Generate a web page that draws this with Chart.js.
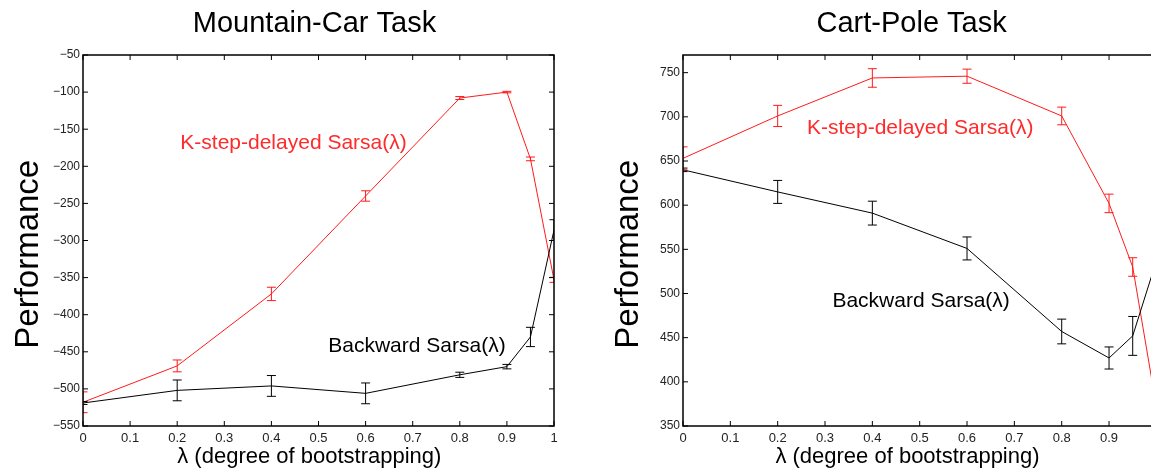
<!DOCTYPE html>
<html>
<head>
<meta charset="utf-8">
<script src="https://cdn.jsdelivr.net/npm/chart.js@4"></script>
<style>
html, body { margin: 0; padding: 0; background: #fff; overflow: hidden; width: 1151px; height: 473px; }
canvas { position: absolute; top: 0; }
#mc { left: 0; }
#cp { left: 600px; }
</style>
</head>
<body>
<canvas id="mc" width="575" height="473"></canvas>
<canvas id="cp" width="565" height="473"></canvas>
<script>
const lambdas = [0, 0.2, 0.4, 0.6, 0.8, 0.9, 0.95, 1]
const xTicks = [0, 0.1, 0.2, 0.3, 0.4, 0.5, 0.6, 0.7, 0.8, 0.9, 1]

// Mountain-Car
const mcKStep = [-518, -469, -372, -240, -108, -100, -190, -353]
const mcKStepErr = [14, 8, 9, 7, 2, 1, 2.5, 3.4]
const mcBackward = [-519, -502, -496, -506, -481, -470, -430, -286]
const mcBackwardErr = [2, 14, 14, 14, 3.5, 3, 13, 14]
const mcYTicks = [-550, -500, -450, -400, -350, -300, -250, -200, -150, -100, -50]

// Cart-Pole
const cpKStep = [653, 701, 744, 746, 701, 602, 530, 372]
const cpKStepErr = [13, 12, 10.5, 8, 10, 10.5, 10.5, 7]
const cpBackward = [640, 615, 591, 551, 457, 427, 452, 537]
const cpBackwardErr = [2, 13, 13.5, 13, 14, 12.5, 22, 10]
const cpYTicks = [350, 400, 450, 500, 550, 600, 650, 700, 750]

const FONT = '"Liberation Sans", Arial, Helvetica, sans-serif'
Chart.defaults.font.family = FONT

function points(vals) {
    return lambdas.map((x, i) => ({ x: x, y: vals[i] }))
}

// error bars, boxed frame with inward ticks, and text labels (matlab look)
const matlabLook = {
    id: "matlabLook",
    afterDatasetsDraw(chart, args, opts) {
        const ctx = chart.ctx
        const a = chart.chartArea
        const x = chart.scales.x
        const y = chart.scales.y

        ctx.save()
        ctx.beginPath()
        ctx.rect(a.left, a.top, a.right - a.left, a.bottom - a.top)
        ctx.clip()
        chart.data.datasets.forEach(ds => {
            ctx.strokeStyle = ds.borderColor
            ctx.lineWidth = 1
            ds.data.forEach((p, i) => {
                const px = x.getPixelForValue(p.x)
                const top = y.getPixelForValue(p.y + ds.errors[i])
                const bot = y.getPixelForValue(p.y - ds.errors[i])
                ctx.beginPath()
                ctx.moveTo(px, top); ctx.lineTo(px, bot)
                ctx.moveTo(px - 4.5, top); ctx.lineTo(px + 4.5, top)
                ctx.moveTo(px - 4.5, bot); ctx.lineTo(px + 4.5, bot)
                ctx.stroke()
            })
        })
        ctx.restore()

        ctx.save()
        ctx.strokeStyle = "#000"
        ctx.lineWidth = 1.5
        ctx.strokeRect(a.left, a.top, a.right - a.left, a.bottom - a.top)
        ctx.lineWidth = 1
        ctx.beginPath()
        x.ticks.forEach(t => {
            const px = x.getPixelForValue(t.value)
            ctx.moveTo(px, a.bottom); ctx.lineTo(px, a.bottom - 5)
            ctx.moveTo(px, a.top); ctx.lineTo(px, a.top + 5)
        })
        y.ticks.forEach(t => {
            const py = y.getPixelForValue(t.value)
            ctx.moveTo(a.left, py); ctx.lineTo(a.left + 5, py)
            ctx.moveTo(a.right, py); ctx.lineTo(a.right - 5, py)
        })
        ctx.stroke()

        ctx.font = "21px " + FONT
        ctx.textAlign = "center"
        ctx.textBaseline = "middle"
        opts.labels.forEach(l => {
            ctx.fillStyle = l.color
            ctx.fillText(l.text, x.getPixelForValue(l.x), y.getPixelForValue(l.y))
        })
        ctx.restore()
    }
}

function makeChart(id, title, xTitle, kstep, kstepErr, backward, backwardErr, yMin, yMax, yTicks, padRight, labels) {
    return new Chart(document.getElementById(id), {
        type: "line",
        data: {
            datasets: [
                {
                    label: "Backward Sarsa(λ)",
                    data: points(backward),
                    errors: backwardErr,
                    borderColor: "#000",
                    borderWidth: 1,
                    pointRadius: 0,
                    tension: 0,
                },
                {
                    label: "K-step-delayed Sarsa(λ)",
                    data: points(kstep),
                    errors: kstepErr,
                    borderColor: "#ff1a1a",
                    borderWidth: 1,
                    pointRadius: 0,
                    tension: 0,
                },
            ],
        },
        options: {
            responsive: false,
            animation: false,
            events: [],
            layout: { padding: { left: 0, right: padRight, top: 0, bottom: 0 } },
            plugins: {
                legend: { display: false },
                tooltip: { enabled: false },
                title: {
                    display: true,
                    text: title,
                    fullSize: false,
                    color: "#000",
                    font: { size: 29, weight: "normal", lineHeight: 1 },
                    padding: { top: 9, bottom: 17 },
                },
                matlabLook: { labels: labels },
            },
            scales: {
                x: {
                    type: "linear",
                    min: 0,
                    max: 1,
                    afterBuildTicks: s => { s.ticks = xTicks.map(v => ({ value: v })) },
                    afterFit: s => { s.height = 47 },
                    grid: { display: false, drawTicks: false },
                    border: { display: false },
                    ticks: {
                        padding: 5,
                        color: "#222",
                        font: { size: 13 },
                        autoSkip: false,
                        maxRotation: 0,
                        callback: v => String(v),
                    },
                    title: {
                        display: true,
                        text: xTitle,
                        color: "#000",
                        font: { size: 22, lineHeight: 1 },
                        padding: { top: 0, bottom: 5 },
                    },
                },
                y: {
                    type: "linear",
                    min: yMin,
                    max: yMax,
                    afterBuildTicks: s => { s.ticks = yTicks.map(v => ({ value: v })) },
                    afterFit: s => { s.width = 83 },
                    grid: { display: false, drawTicks: false },
                    border: { display: false },
                    ticks: {
                        padding: 3,
                        color: "#222",
                        font: { size: 12 },
                        callback: v => String(v).replace("-", "\u2212"),
                    },
                    title: {
                        display: true,
                        // trailing spaces nudge the rotated label down like the original
                        text: "Performance   ",
                        color: "#000",
                        font: { size: 33, lineHeight: 1 },
                        padding: { top: 12, bottom: 0 },
                    },
                },
            },
        },
        plugins: [matlabLook],
    })
}

makeChart("mc", "Mountain-Car Task ", "λ (degree of bootstrapping)   ",
    mcKStep, mcKStepErr, mcBackward, mcBackwardErr,
    -550, -50, mcYTicks, 21, [
        { text: "K-step-delayed Sarsa(λ)", x: 0.447, y: -169, color: "#ff2a2a" },
        { text: "Backward Sarsa(λ)", x: 0.709, y: -442, color: "#000" },
    ])

makeChart("cp", "Cart-Pole Task  ", "λ (degree of bootstrapping)    ",
    cpKStep, cpKStepErr, cpBackward, cpBackwardErr,
    350, 770, cpYTicks, 7, [
        { text: "K-step-delayed Sarsa(λ)", x: 0.501, y: 687, color: "#ff2a2a" },
        { text: "Backward Sarsa(λ)", x: 0.503, y: 491, color: "#000" },
    ])
</script>
</body>
</html>
